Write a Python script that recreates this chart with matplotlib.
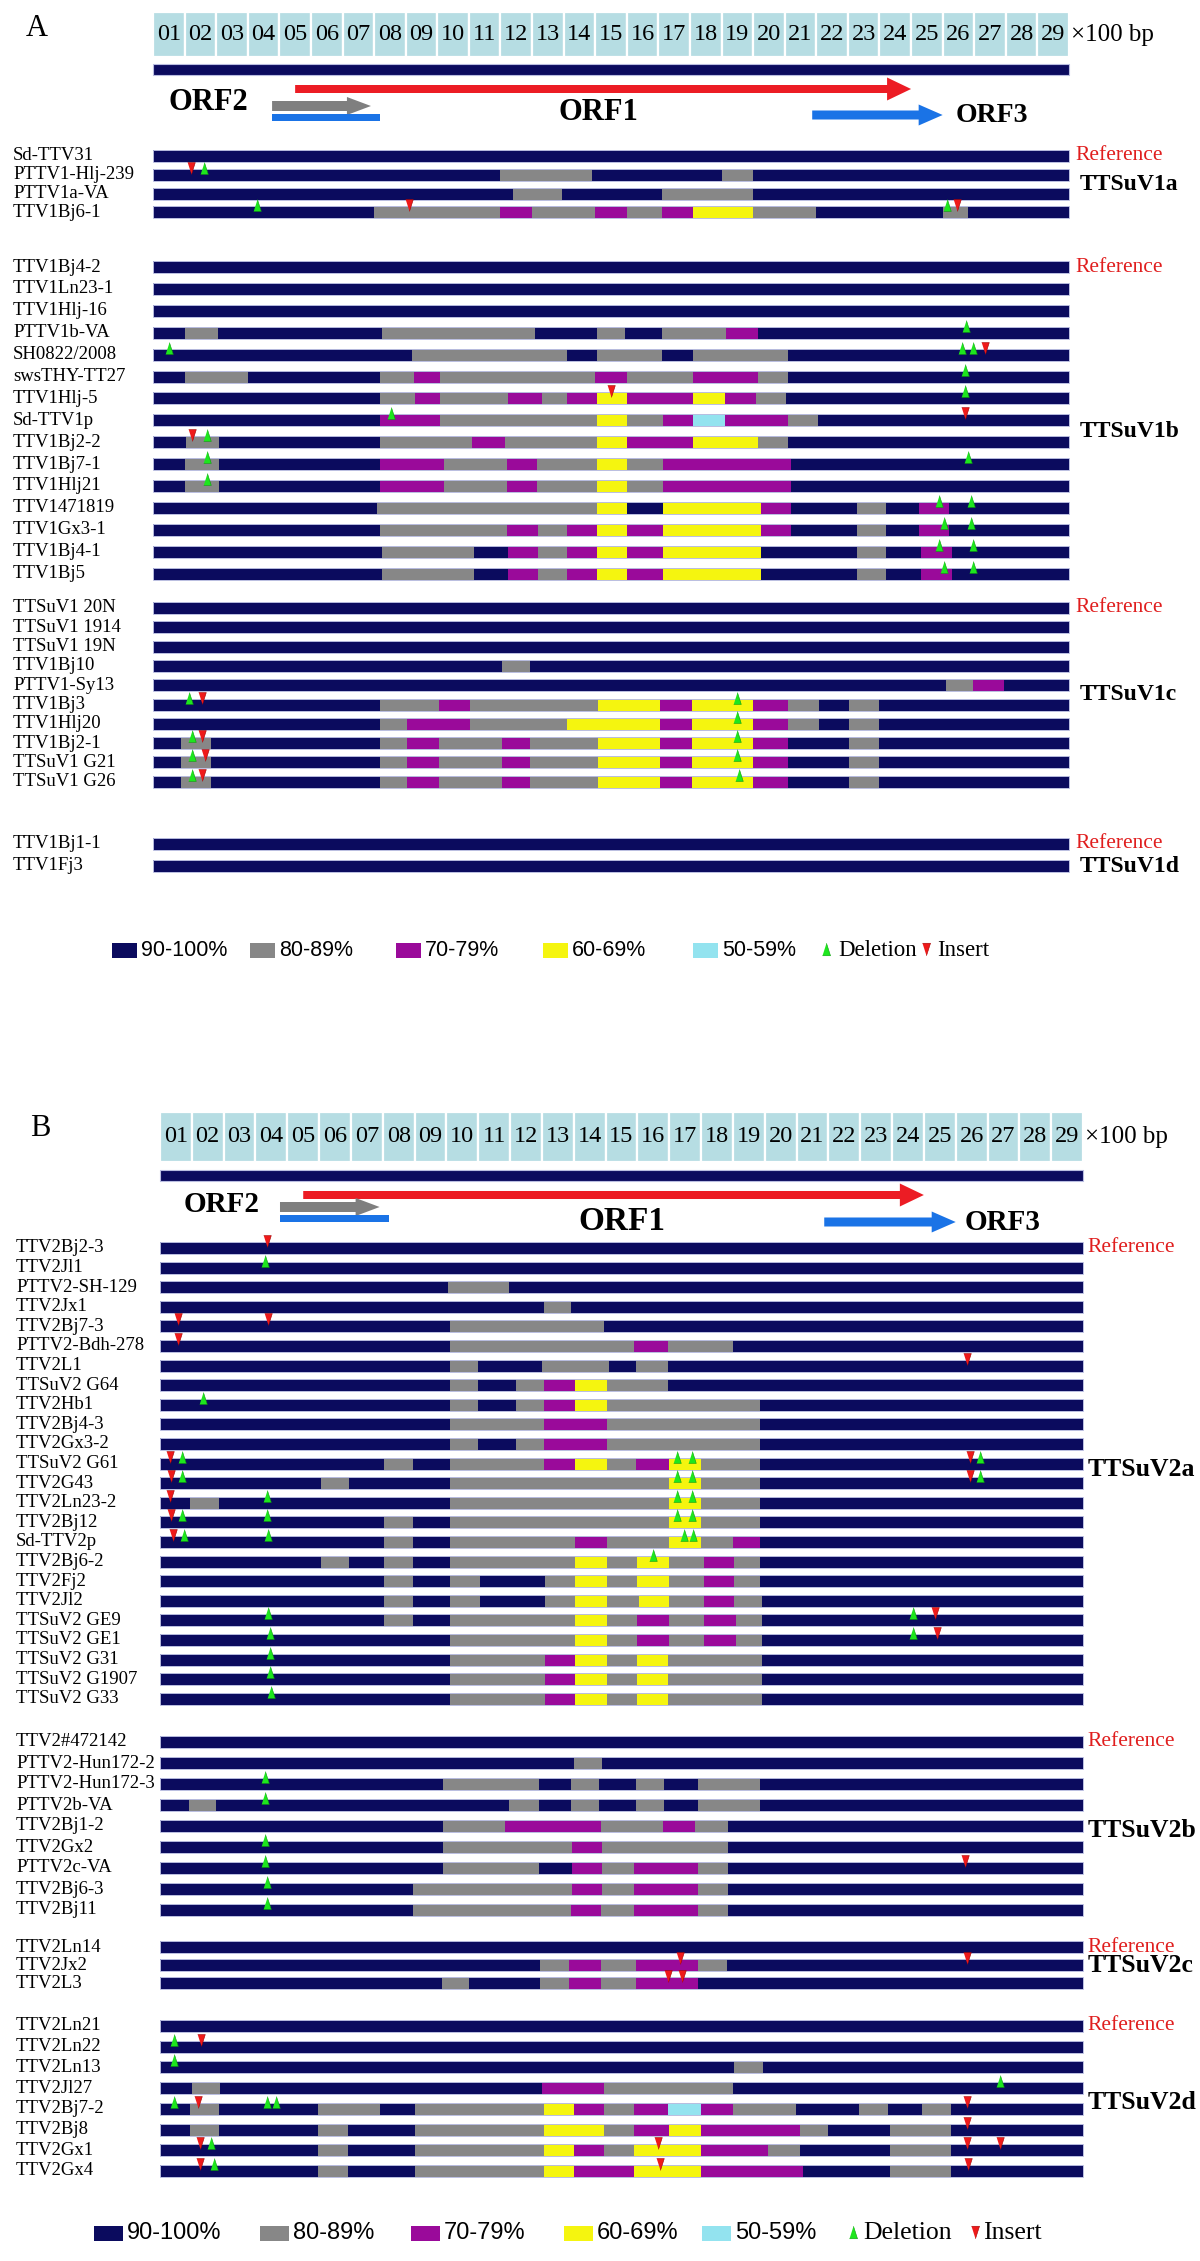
import matplotlib
matplotlib.use('Agg')
import matplotlib.pyplot as plt
from matplotlib.patches import Rectangle, FancyArrow
from matplotlib import font_manager

# colour code -> identity class (90-100, 80-89, 70-79, 60-69, 50-59 %)
COL = {'N': '#0b0b5e', 'G': '#878787', 'P': '#9a0a9a', 'Y': '#f5f50f', 'C': '#93e3ef'}
legend_labels = ['90-100%', '80-89%', '70-79%', '60-69%', '50-59%']
legend_codes = ['N', 'G', 'P', 'Y', 'C']
box_labels = ['%02d' % i for i in range(1, 30)]

# ORF positions in 100 bp units (start, end)
orf1 = (4.5, 24.0)
orf2 = (3.77, 6.9)
orf2_bar = (3.77, 7.19)
orf3 = (20.87, 25.0)

# ------------------------------------------------------------ panel A data
groups_A = ['TTSuV1a', 'TTSuV1b', 'TTSuV1c', 'TTSuV1d']
sizes_A = [4, 15, 10, 2]
names_A = ['Sd-TTV31', 'PTTV1-Hlj-239', 'PTTV1a-VA', 'TTV1Bj6-1',
           'TTV1Bj4-2', 'TTV1Ln23-1', 'TTV1Hlj-16', 'PTTV1b-VA', 'SH0822/2008',
           'swsTHY-TT27', 'TTV1Hlj-5', 'Sd-TTV1p', 'TTV1Bj2-2', 'TTV1Bj7-1',
           'TTV1Hlj21', 'TTV1471819', 'TTV1Gx3-1', 'TTV1Bj4-1', 'TTV1Bj5',
           'TTSuV1 20N', 'TTSuV1 1914', 'TTSuV1 19N', 'TTV1Bj10', 'PTTV1-Sy13',
           'TTV1Bj3', 'TTV1Hlj20', 'TTV1Bj2-1', 'TTSuV1 G21', 'TTSuV1 G26',
           'TTV1Bj1-1', 'TTV1Fj3']
segs_A = [
    [],
    [(11.0, 13.9, 'G'), (18.0, 19.0, 'G')],
    [(11.4, 12.95, 'G'), (16.1, 19.0, 'G')],
    [(7.0, 11.0, 'G'), (11.0, 12.0, 'P'), (12.0, 14.0, 'G'), (14.0, 15.0, 'P'), (15.0, 16.1, 'G'),
     (16.1, 17.1, 'P'), (17.1, 19.0, 'Y'), (19.0, 21.0, 'G'), (25.0, 25.8, 'G')],
    [], [], [],
    [(1.0, 2.05, 'G'), (7.25, 12.1, 'G'), (14.05, 14.95, 'G'), (16.1, 18.15, 'G'), (18.15, 19.15, 'P')],
    [(8.2, 13.1, 'G'), (14.05, 16.1, 'G'), (17.1, 20.1, 'G')],
    [(1.0, 3.0, 'G'), (7.2, 8.25, 'G'), (8.25, 9.1, 'P'), (9.1, 14.0, 'G'), (14.0, 15.0, 'P'),
     (15.0, 17.1, 'G'), (17.1, 19.15, 'P'), (19.15, 20.1, 'G')],
    [(7.2, 8.3, 'G'), (8.3, 9.1, 'P'), (9.1, 11.25, 'G'), (11.25, 12.3, 'P'), (12.3, 13.1, 'G'),
     (13.1, 14.05, 'P'), (14.05, 15.0, 'Y'), (15.0, 17.1, 'P'), (17.1, 18.1, 'Y'), (18.1, 19.1, 'P'),
     (19.1, 20.05, 'G')],
    [(7.2, 9.1, 'P'), (9.1, 14.05, 'G'), (14.05, 15.0, 'Y'), (15.0, 16.15, 'G'), (16.15, 17.1, 'P'),
     (17.1, 18.1, 'C'), (18.1, 20.1, 'P'), (20.1, 21.05, 'G')],
    [(1.05, 2.1, 'G'), (7.2, 10.1, 'G'), (10.1, 11.15, 'P'), (11.15, 14.05, 'G'), (14.05, 15.0, 'Y'),
     (15.0, 17.1, 'P'), (17.1, 19.15, 'Y'), (19.15, 20.1, 'G')],
    [(1.0, 2.1, 'G'), (7.2, 9.2, 'P'), (9.2, 11.2, 'G'), (11.2, 12.15, 'P'), (12.15, 14.05, 'G'),
     (14.05, 15.0, 'Y'), (15.0, 16.15, 'G'), (16.15, 20.2, 'P')],
    [(1.0, 2.1, 'G'), (7.2, 9.2, 'P'), (9.2, 11.2, 'G'), (11.2, 12.15, 'P'), (12.15, 14.05, 'G'),
     (14.05, 15.0, 'Y'), (15.0, 16.15, 'G'), (16.15, 20.2, 'P')],
    [(7.1, 14.05, 'G'), (14.05, 15.0, 'Y'), (16.15, 19.25, 'Y'), (19.25, 20.2, 'P'), (22.3, 23.2, 'G'),
     (24.25, 25.2, 'P')],
    [(7.2, 11.2, 'G'), (11.2, 12.2, 'P'), (12.2, 13.1, 'G'), (13.1, 14.05, 'P'), (14.05, 15.0, 'Y'),
     (15.0, 16.15, 'P'), (16.15, 19.25, 'Y'), (19.25, 20.2, 'P'), (22.3, 23.2, 'G'), (24.25, 25.2, 'P')],
    [(7.25, 10.15, 'G'), (11.25, 12.2, 'P'), (12.2, 13.1, 'G'), (13.1, 14.05, 'P'), (14.05, 15.0, 'Y'),
     (15.0, 16.15, 'P'), (16.15, 19.25, 'Y'), (22.3, 23.2, 'G'), (24.3, 25.3, 'P')],
    [(7.25, 10.15, 'G'), (11.25, 12.2, 'P'), (12.2, 13.1, 'G'), (13.1, 14.05, 'P'), (14.05, 15.0, 'Y'),
     (15.0, 16.15, 'P'), (16.15, 19.25, 'Y'), (22.3, 23.2, 'G'), (24.3, 25.3, 'P')],
    [], [], [],
    [(11.05, 11.95, 'G')],
    [(25.1, 25.95, 'G'), (25.95, 26.95, 'P')],
    [(7.2, 9.05, 'G'), (9.05, 10.05, 'P'), (10.05, 14.1, 'G'), (14.1, 16.05, 'Y'), (16.05, 17.05, 'P'),
     (17.05, 19.0, 'Y'), (19.0, 20.1, 'P'), (20.1, 21.1, 'G'), (22.05, 23.0, 'G')],
    [(7.2, 8.05, 'G'), (8.05, 10.05, 'P'), (10.05, 13.1, 'G'), (13.1, 16.05, 'Y'), (16.05, 17.05, 'P'),
     (17.05, 19.0, 'Y'), (19.0, 20.1, 'P'), (20.1, 21.1, 'G'), (22.05, 23.0, 'G')],
    [(0.9, 1.85, 'G'), (7.2, 8.05, 'G'), (8.05, 9.05, 'P'), (9.05, 11.05, 'G'), (11.05, 11.95, 'P'),
     (11.95, 14.1, 'G'), (14.1, 16.05, 'Y'), (16.05, 17.05, 'P'), (17.05, 19.0, 'Y'), (19.0, 20.1, 'P'),
     (22.05, 23.0, 'G')],
    [(0.9, 1.85, 'G'), (7.2, 8.05, 'G'), (8.05, 9.05, 'P'), (9.05, 11.05, 'G'), (11.05, 11.95, 'P'),
     (11.95, 14.1, 'G'), (14.1, 16.05, 'Y'), (16.05, 17.05, 'P'), (17.05, 19.0, 'Y'), (19.0, 20.1, 'P'),
     (22.05, 23.0, 'G')],
    [(0.9, 1.85, 'G'), (7.2, 8.05, 'G'), (8.05, 9.05, 'P'), (9.05, 11.05, 'G'), (11.05, 11.95, 'P'),
     (11.95, 14.1, 'G'), (14.1, 16.05, 'Y'), (16.05, 17.05, 'P'), (17.05, 19.0, 'Y'), (19.0, 20.1, 'P'),
     (22.05, 23.0, 'G')],
    [], [],
]
del_A = [[], [1.6], [], [3.3, 25.15],
         [], [], [], [25.75], [0.5, 25.6, 25.95], [25.7], [25.7], [7.55], [1.7], [1.7, 25.8],
         [1.7], [24.9, 25.9], [25.05, 25.9], [24.9, 25.95], [25.05, 25.95],
         [], [], [], [], [], [1.15, 18.5], [18.5], [1.25, 18.5], [1.25, 18.5], [1.25, 18.55],
         [], []]
ins_A = [[], [1.2], [], [8.1, 25.45],
         [], [], [], [], [26.35], [], [14.5], [25.7], [1.25], [],
         [], [], [], [], [],
         [], [], [], [], [], [1.55], [], [1.55], [1.65], [1.55],
         [], []]

# ------------------------------------------------------------ panel B data
groups_B = ['TTSuV2a', 'TTSuV2b', 'TTSuV2c', 'TTSuV2d']
sizes_B = [24, 9, 3, 8]
names_B = ['TTV2Bj2-3', 'TTV2Jl1', 'PTTV2-SH-129', 'TTV2Jx1', 'TTV2Bj7-3', 'PTTV2-Bdh-278',
           'TTV2L1', 'TTSuV2 G64', 'TTV2Hb1', 'TTV2Bj4-3', 'TTV2Gx3-2', 'TTSuV2 G61',
           'TTV2G43', 'TTV2Ln23-2', 'TTV2Bj12', 'Sd-TTV2p', 'TTV2Bj6-2', 'TTV2Fj2',
           'TTV2Jl2', 'TTSuV2 GE9', 'TTSuV2 GE1', 'TTSuV2 G31', 'TTSuV2 G1907', 'TTSuV2 G33',
           'TTV2#472142', 'PTTV2-Hun172-2', 'PTTV2-Hun172-3', 'PTTV2b-VA', 'TTV2Bj1-2',
           'TTV2Gx2', 'PTTV2c-VA', 'TTV2Bj6-3', 'TTV2Bj11',
           'TTV2Ln14', 'TTV2Jx2', 'TTV2L3',
           'TTV2Ln21', 'TTV2Ln22', 'TTV2Ln13', 'TTV2Jl27', 'TTV2Bj7-2', 'TTV2Bj8', 'TTV2Gx1', 'TTV2Gx4']
segs_B = [
    [], [],
    [(9.05, 10.95, 'G')],
    [(12.05, 12.9, 'G')],
    [(9.1, 13.95, 'G')],
    [(9.1, 14.9, 'G'), (14.9, 15.95, 'P'), (15.95, 18.0, 'G')],
    [(9.1, 10.0, 'G'), (12.0, 14.1, 'G'), (14.95, 15.95, 'G')],
    [(9.1, 10.0, 'G'), (11.2, 12.05, 'G'), (12.05, 13.05, 'P'), (13.05, 14.05, 'Y'), (14.05, 15.95, 'G')],
    [(9.1, 10.0, 'G'), (11.2, 12.05, 'G'), (12.05, 13.05, 'P'), (13.05, 14.05, 'Y'), (14.05, 18.85, 'G')],
    [(9.1, 12.05, 'G'), (12.05, 14.05, 'P'), (14.05, 18.85, 'G')],
    [(9.1, 10.0, 'G'), (11.2, 12.05, 'G'), (12.05, 14.05, 'P'), (14.05, 18.85, 'G')],
    [(7.05, 7.95, 'G'), (9.1, 12.05, 'G'), (12.05, 13.05, 'P'), (13.05, 14.05, 'Y'), (14.05, 14.95, 'G'),
     (14.95, 16.0, 'P'), (16.0, 17.0, 'Y'), (17.0, 18.85, 'G')],
    [(5.05, 5.95, 'G'), (9.1, 16.0, 'G'), (16.0, 17.0, 'Y'), (17.0, 18.85, 'G')],
    [(0.95, 1.85, 'G'), (9.1, 16.0, 'G'), (16.0, 17.0, 'Y'), (17.0, 18.85, 'G')],
    [(7.05, 7.95, 'G'), (9.1, 16.0, 'G'), (16.0, 17.0, 'Y'), (17.0, 18.85, 'G')],
    [(7.05, 7.95, 'G'), (9.1, 13.05, 'G'), (13.05, 14.05, 'P'), (14.05, 16.0, 'G'), (16.0, 17.0, 'Y'),
     (17.0, 18.0, 'G'), (18.0, 18.85, 'P')],
    [(5.05, 5.95, 'G'), (7.05, 7.95, 'G'), (9.1, 13.05, 'G'), (13.05, 14.05, 'Y'), (14.05, 15.0, 'G'),
     (15.0, 16.0, 'Y'), (16.0, 17.1, 'G'), (17.1, 18.05, 'P'), (18.05, 18.85, 'G')],
    [(7.05, 7.95, 'G'), (9.1, 10.05, 'G'), (12.1, 13.05, 'G'), (13.05, 14.05, 'Y'), (14.05, 15.0, 'G'),
     (15.0, 16.0, 'Y'), (16.0, 17.1, 'G'), (17.1, 18.05, 'P'), (18.05, 18.85, 'G')],
    [(7.05, 7.95, 'G'), (9.1, 10.05, 'G'), (12.1, 13.05, 'G'), (13.05, 14.05, 'Y'), (14.05, 15.05, 'G'),
     (15.05, 16.0, 'Y'), (16.0, 17.1, 'G'), (17.1, 18.05, 'P'), (18.05, 18.9, 'G')],
    [(7.05, 7.95, 'G'), (9.1, 13.05, 'G'), (13.05, 14.05, 'Y'), (14.05, 15.0, 'G'), (15.0, 16.0, 'P'),
     (16.0, 17.1, 'G'), (17.1, 18.1, 'P'), (18.1, 18.9, 'G')],
    [(9.1, 13.05, 'G'), (13.05, 14.05, 'Y'), (14.05, 15.0, 'G'), (15.0, 16.0, 'P'), (16.0, 17.1, 'G'),
     (17.1, 18.1, 'P'), (18.1, 18.9, 'G')],
    [(9.1, 12.1, 'G'), (12.1, 13.05, 'P'), (13.05, 14.05, 'Y'), (14.05, 15.0, 'G'), (15.0, 15.95, 'Y'),
     (15.95, 18.9, 'G')],
    [(9.1, 12.1, 'G'), (12.1, 13.05, 'P'), (13.05, 14.05, 'Y'), (14.05, 15.0, 'G'), (15.0, 15.95, 'Y'),
     (15.95, 18.9, 'G')],
    [(9.1, 12.1, 'G'), (12.1, 13.05, 'P'), (13.05, 14.05, 'Y'), (14.05, 15.0, 'G'), (15.0, 15.95, 'Y'),
     (15.95, 18.9, 'G')],
    [],
    [(13.0, 13.9, 'G')],
    [(8.9, 11.9, 'G'), (12.9, 13.8, 'G'), (14.95, 15.85, 'G'), (16.9, 18.85, 'G')],
    [(0.9, 1.75, 'G'), (10.95, 11.9, 'G'), (12.9, 13.8, 'G'), (14.95, 15.85, 'G'), (16.9, 18.85, 'G')],
    [(8.9, 10.85, 'G'), (10.85, 13.85, 'P'), (13.85, 15.8, 'G'), (15.8, 16.8, 'P'), (16.8, 17.85, 'G')],
    [(8.9, 12.95, 'G'), (12.95, 13.9, 'P'), (13.9, 17.85, 'G')],
    [(8.9, 11.9, 'G'), (12.95, 13.9, 'P'), (13.9, 14.9, 'G'), (14.9, 16.9, 'P'), (16.9, 17.85, 'G')],
    [(7.95, 12.95, 'G'), (12.95, 13.9, 'P'), (13.9, 14.9, 'G'), (14.9, 16.9, 'P'), (16.9, 17.85, 'G')],
    [(7.95, 12.9, 'G'), (12.9, 13.85, 'P'), (13.85, 14.9, 'G'), (14.9, 16.9, 'P'), (16.9, 17.85, 'G')],
    [],
    [(11.95, 12.85, 'G'), (12.85, 13.85, 'P'), (13.85, 14.95, 'G'), (14.95, 16.9, 'P'), (16.9, 17.8, 'G')],
    [(8.85, 9.7, 'G'), (11.95, 12.85, 'G'), (12.85, 13.85, 'P'), (13.85, 14.95, 'G'), (14.95, 16.9, 'P')],
    [], [],
    [(18.05, 18.95, 'G')],
    [(1.0, 1.9, 'G'), (12.0, 13.95, 'P'), (13.95, 18.0, 'G')],
    [(0.95, 1.85, 'G'), (4.95, 6.9, 'G'), (8.0, 12.05, 'G'), (12.05, 13.0, 'Y'), (13.0, 13.95, 'P'),
     (13.95, 14.9, 'G'), (14.9, 15.95, 'P'), (15.95, 17.0, 'C'), (17.0, 18.0, 'P'), (18.0, 19.97, 'G'),
     (21.97, 22.86, 'G'), (23.95, 24.86, 'G')],
    [(0.95, 1.85, 'G'), (4.95, 5.9, 'G'), (8.0, 12.05, 'G'), (12.05, 13.95, 'Y'), (13.95, 14.9, 'G'),
     (14.9, 16.0, 'P'), (16.0, 17.0, 'Y'), (17.0, 20.1, 'P'), (20.1, 21.0, 'G'), (22.95, 24.85, 'G')],
    [(4.95, 5.9, 'G'), (8.0, 12.05, 'G'), (12.05, 13.0, 'Y'), (13.0, 13.95, 'P'), (13.95, 14.9, 'G'),
     (14.9, 17.0, 'Y'), (17.0, 19.1, 'P'), (19.1, 20.1, 'G'), (22.95, 24.85, 'G')],
    [(4.95, 5.9, 'G'), (8.0, 12.05, 'G'), (12.05, 13.0, 'Y'), (13.0, 14.9, 'P'), (14.9, 17.0, 'Y'),
     (17.0, 20.2, 'P'), (22.95, 24.85, 'G')],
]
del_B = [[], [3.3], [], [], [], [], [], [], [1.35], [], [],
         [0.7, 16.25, 16.7, 25.75], [0.7, 16.25, 16.7, 25.75], [3.35, 16.25, 16.7],
         [0.7, 3.35, 16.25, 16.7], [0.75, 3.4, 16.45, 16.75], [15.5], [], [],
         [3.4, 23.65], [3.45, 23.65], [3.45], [3.45], [3.5],
         [], [], [3.3], [3.3], [], [3.3], [3.3], [3.35], [3.35],
         [], [], [],
         [], [0.45], [0.45], [26.4], [0.45, 3.35, 3.65], [], [1.6], [1.7]]
ins_B = [[3.35], [], [], [], [0.55, 3.4], [0.55], [25.35], [], [], [], [],
         [0.3, 25.45], [0.35, 25.45], [0.3], [0.35], [0.4], [], [], [],
         [24.35], [24.4], [], [], [],
         [], [], [], [], [], [], [25.3], [], [],
         [], [16.35, 25.35], [15.95, 16.4],
         [], [1.3], [], [], [1.2, 25.35], [25.35], [1.25, 15.65, 25.35, 26.4], [1.25, 15.7, 25.4]]

# ------------------------------------------------------------ drawing
W, H = 1200, 2261
SERIF = 'Liberation Serif'
installed = {f.name for f in font_manager.fontManager.ttflist}
if 'Liberation Sans Narrow' in installed:
    LEG_FONT, LEG_K = 'Liberation Sans Narrow', 1.2
else:
    LEG_FONT, LEG_K = 'Liberation Sans', 1.0
BOXC = '#b6dde3'
EDGE = '#b9bde0'
RED = '#ec1c24'
GRAYA = '#7f7f7f'
BLUE = '#1a73e6'
BH = 12.0   # bar height (px)
UP = [(-0.32, -0.5), (0.32, -0.5), (0.0, 0.5)]
DOWN = [(-0.32, 0.5), (0.32, 0.5), (0.0, -0.5)]

fig = plt.figure(figsize=(12, 22.61), dpi=100)


def panel_axes(x0, x1):
    ax = fig.add_axes([0, 0, 1, 1])
    s = (x1 - x0) / 29.0
    ax.set_xlim(-x0 / s, (W - x0) / s)
    ax.set_ylim(H, 0)
    ax.axis('off')
    ax.patch.set_alpha(0)
    return ax, (lambda px: (px - x0) / s), s


def draw_header(ax, X, s, top, bot, bar_y, letter, lx, ly, orf_y, orf_txt):
    ax.text(X(lx), ly, letter, family=SERIF, fontsize=22, va='center', ha='left')
    for i, lab in enumerate(box_labels):
        ax.add_patch(Rectangle((i, top), 1, bot - top, fc=BOXC, ec='white', lw=1.6))
        ax.text(i + 0.5, (top + bot) / 2, lab, family=SERIF, fontsize=17.5, ha='center', va='center')
    ax.text(29.05, (top + bot) / 2, '\u00d7100 bp', family=SERIF, fontsize=18, ha='left', va='center')
    ax.add_patch(Rectangle((0, bar_y - 5.5), 29, 11, fc=COL['N'], ec=EDGE, lw=0.8))
    hl = 24 / s
    ry, gy, by, oy = orf_y
    ax.add_patch(FancyArrow(orf1[0], ry, orf1[1] - orf1[0], 0, width=8, head_width=23, head_length=hl,
                            length_includes_head=True, fc=RED, ec='none'))
    ax.add_patch(FancyArrow(orf2[0], gy, orf2[1] - orf2[0], 0, width=10, head_width=18, head_length=hl,
                            length_includes_head=True, fc=GRAYA, ec='none'))
    ax.add_patch(Rectangle((orf2_bar[0], by - 3.5), orf2_bar[1] - orf2_bar[0], 7, fc=BLUE, ec='none'))
    ax.add_patch(FancyArrow(orf3[0], oy, orf3[1] - orf3[0], 0, width=9, head_width=21, head_length=hl,
                            length_includes_head=True, fc=BLUE, ec='none'))
    for txt, px, py, fs in orf_txt:
        ax.text(X(px), py, txt, family=SERIF, weight='bold', fontsize=fs, ha='center', va='center')


def draw_rows(ax, X, names, segs, dels, inss, sizes, starts, pitches, gnames, gidx,
              lab_px, ref_px, grp_px, grp_fs):
    row = 0
    for g, n in enumerate(sizes):
        for k in range(n):
            i = row + k
            y = starts[g] + k * pitches[g]
            ax.add_patch(Rectangle((0, y - BH / 2), 29, BH, fc=COL['N'], ec='none'))
            for a, b, c in segs[i]:
                ax.add_patch(Rectangle((a, y - BH / 2), b - a, BH, fc=COL[c], ec='none'))
            ax.add_patch(Rectangle((0, y - BH / 2), 29, BH, fill=False, ec=EDGE, lw=0.7))
            ax.text(X(lab_px), y, names[i], family=SERIF, fontsize=13.5, ha='left', va='center')
            if dels[i]:
                ax.plot(dels[i], [y - 7] * len(dels[i]), ls='none', marker=UP, ms=8.5,
                        mfc='#1ee61e', mec='#0c9c0c', mew=0.4, zorder=5)
            if inss[i]:
                ax.plot(inss[i], [y - 7] * len(inss[i]), ls='none', marker=DOWN, ms=8.5,
                        mfc='#ee1a1a', mec='#a00000', mew=0.4, zorder=5)
        ax.text(X(ref_px), starts[g], 'Reference', family=SERIF, fontsize=15.5, color='#e01e1e',
                ha='left', va='center')
        ax.text(X(grp_px), starts[g] + gidx[g] * pitches[g], gnames[g], family=SERIF,
                weight='bold', fontsize=grp_fs, ha='left', va='center')
        row += n


def draw_legend(ax, X, y, sq_px, sq_w, txt_fs, tri_px, tri_txt_px, tri_fs):
    for code, lab, px in zip(legend_codes, legend_labels, sq_px):
        ax.add_patch(Rectangle((X(px), y - 7.5), sq_w, 15, fc=COL[code], ec='none'))
        ax.text(X(px) + sq_w + 4 / 31.7, y, lab, family=LEG_FONT, fontsize=txt_fs * LEG_K,
                ha='left', va='center')
    ax.plot([X(tri_px[0])], [y - 1], ls='none', marker=UP, ms=9, mfc='#1ee61e', mec='#0c9c0c', mew=0.4)
    ax.plot([X(tri_px[1])], [y - 1], ls='none', marker=DOWN, ms=9, mfc='#ee1a1a', mec='#a00000', mew=0.4)
    ax.text(X(tri_txt_px[0]), y, 'Deletion', family=SERIF, fontsize=tri_fs, ha='left', va='center')
    ax.text(X(tri_txt_px[1]), y, 'Insert', family=SERIF, fontsize=tri_fs, ha='left', va='center')


# panel A
axA, XA, sA = panel_axes(153, 1069)
draw_header(axA, XA, sA, 12, 57, 69, 'A', 26, 28, (89, 106, 117, 115),
            [('ORF2', 208, 102, 22), ('ORF1', 598, 112, 22), ('ORF3', 992, 116, 20)])
draw_rows(axA, XA, names_A, segs_A, del_A, ins_A, sizes_A,
          [156, 267, 608, 844], [18.8, 21.9, 19.3, 22], groups_A, [1.5, 7.5, 4.5, 1],
          13, 1075, 1080, 17)
draw_legend(axA, XA, 950, [112, 250, 396, 543, 693], 25 / sA, 15.5, (826, 926), (838, 937), 16.5)

# panel B
axB, XB, sB = panel_axes(160, 1083)
draw_header(axB, XB, sB, 1112, 1162, 1175, 'B', 30, 1128, (1195, 1207, 1218, 1222),
            [('ORF2', 222, 1205, 21), ('ORF1', 622, 1221, 24), ('ORF3', 1003, 1222, 21)])
draw_rows(axB, XB, names_B, segs_B, del_B, ins_B, sizes_B,
          [1248, 1742, 1947, 2026], [19.6, 21, 18, 20.7], groups_B, [11.3, 4.2, 1, 3.7],
          16, 1087, 1088, 18.5)
draw_legend(axB, XB, 2233, [94, 260, 411, 564, 702], 29 / sB, 17, (853, 975), (863, 983), 18.5)

fig.savefig('out.png', dpi=100, facecolor='white')
